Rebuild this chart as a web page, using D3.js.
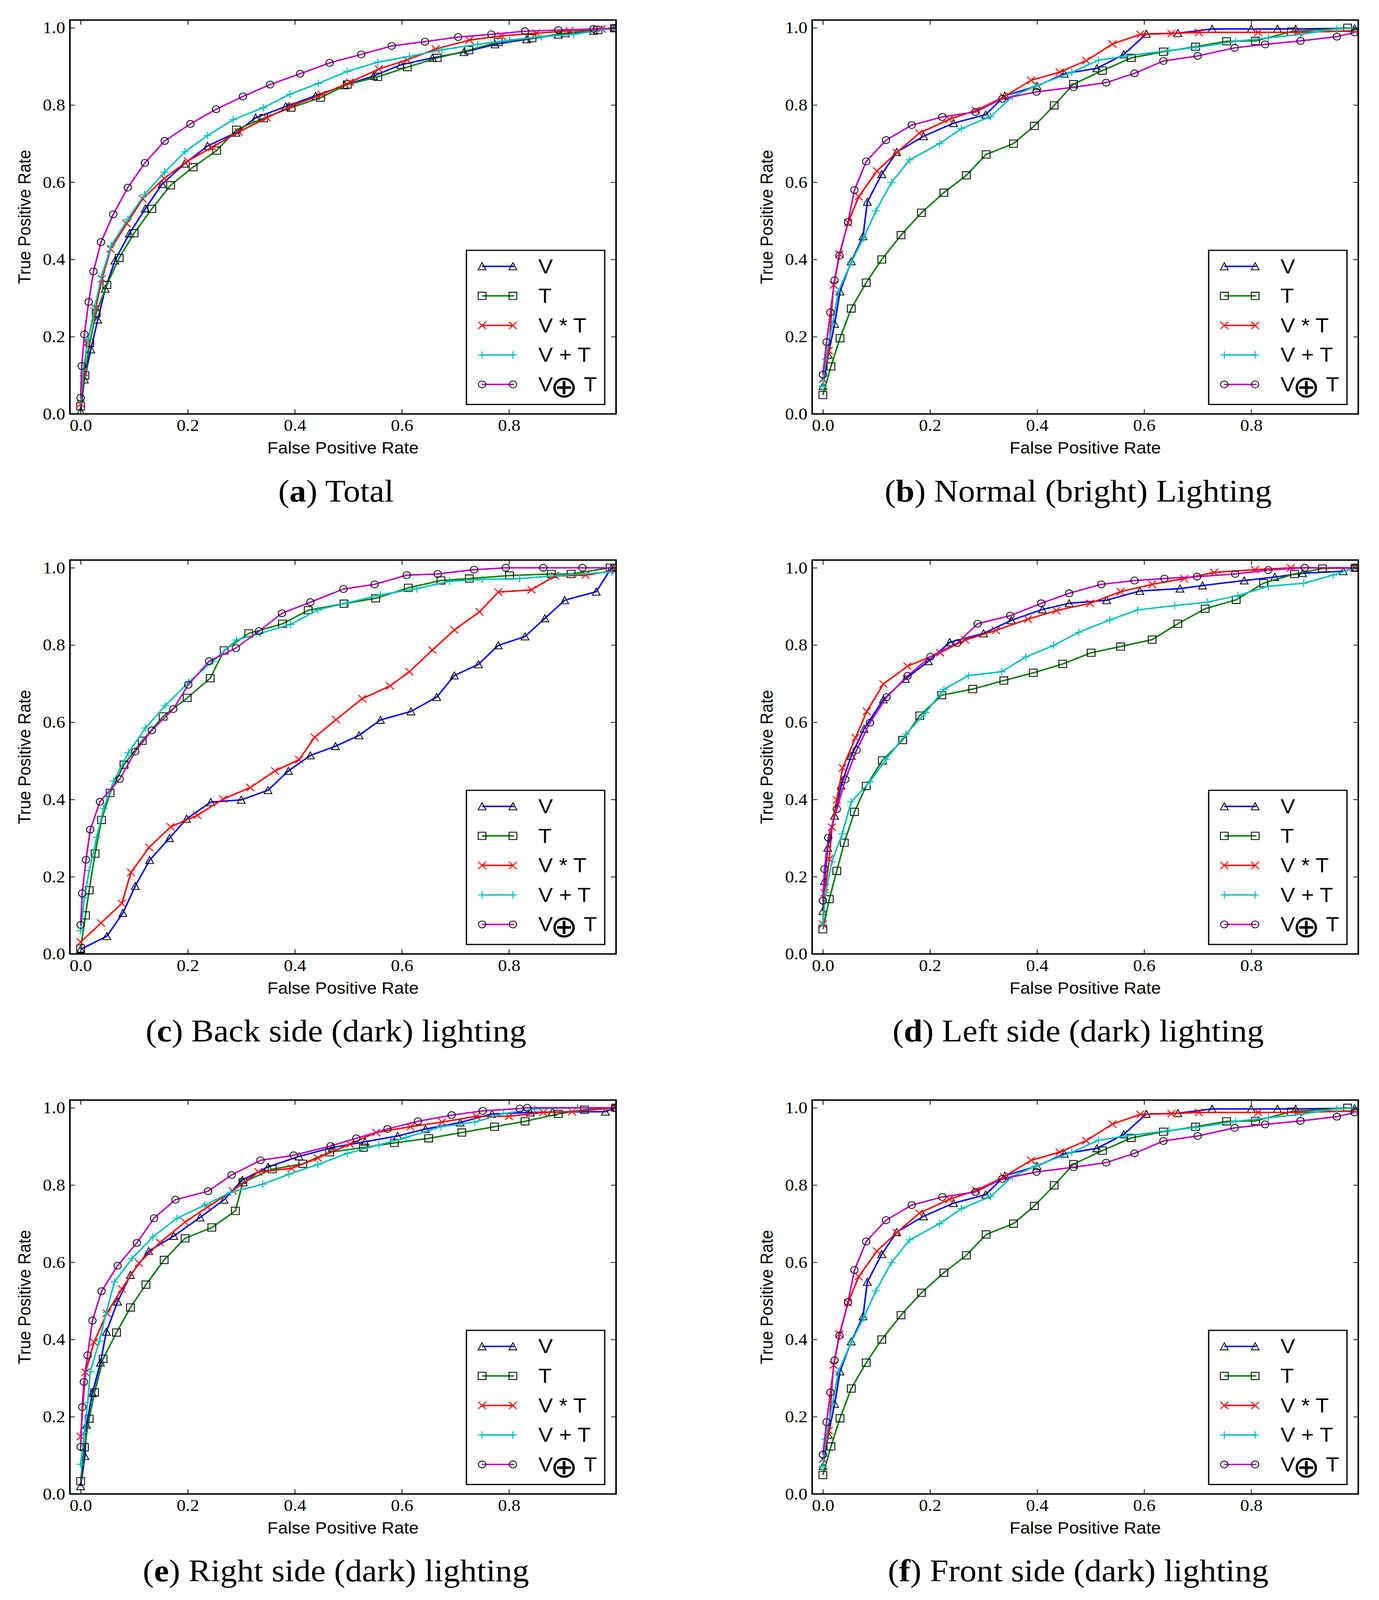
<!DOCTYPE html>
<html>
<head>
<meta charset="utf-8">
<script src="https://cdn.jsdelivr.net/npm/d3@7/dist/d3.min.js"></script>
<style>
html,body{margin:0;padding:0;overflow:hidden;background:#fff}
svg{display:block}
</style>
</head>
<body>
<svg id="figure"></svg>
<script>
// values, points are [false positive rate, true positive rate]
var seriesNames=["V","T","V * T","V + T","V⊕T"]
var xTicks=[0,0.2,0.4,0.6,0.8]
var yTicks=[0,0.2,0.4,0.6,0.8,1.0]
var captionLetters=["a","b","c","d","e","f"]
var captionTexts=["Total","Normal (bright) Lighting","Back side (dark) lighting","Left side (dark) lighting","Right side (dark) lighting","Front side (dark) lighting"]

// (a) Total
var aV=[[0,0.007],[0.007,0.089],[0.019,0.167],[0.032,0.244],[0.046,0.324],[0.064,0.397],[0.091,0.467],[0.121,0.532],[0.152,0.595],[0.194,0.648],[0.237,0.694],[0.29,0.728],[0.327,0.767],[0.383,0.796],[0.439,0.824],[0.493,0.851],[0.547,0.875],[0.598,0.904],[0.657,0.922],[0.716,0.937],[0.774,0.957],[0.833,0.970],[0.892,0.982],[0.958,0.992],[0.997,0.999]]
var aT=[[0,0.02],[0.008,0.1],[0.017,0.184],[0.029,0.261],[0.049,0.334],[0.072,0.404],[0.1,0.468],[0.133,0.531],[0.168,0.592],[0.21,0.639],[0.254,0.682],[0.291,0.736],[0.342,0.766],[0.393,0.793],[0.448,0.819],[0.498,0.853],[0.555,0.873],[0.61,0.898],[0.666,0.922],[0.725,0.942],[0.78,0.963],[0.843,0.973],[0.905,0.986],[0.966,0.994],[0.997,0.999]]
var aVmT=[[0,0.026],[0.006,0.107],[0.012,0.184],[0.028,0.274],[0.04,0.35],[0.056,0.427],[0.086,0.493],[0.116,0.557],[0.156,0.61],[0.2,0.655],[0.246,0.691],[0.295,0.73],[0.348,0.767],[0.395,0.798],[0.45,0.827],[0.503,0.859],[0.557,0.893],[0.61,0.917],[0.663,0.945],[0.726,0.968],[0.786,0.979],[0.851,0.986],[0.913,0.992],[0.973,0.997],[1.0,1.0]]
var aVpT=[[0,0.035],[0.005,0.116],[0.014,0.193],[0.026,0.274],[0.039,0.356],[0.057,0.436],[0.088,0.504],[0.119,0.568],[0.157,0.626],[0.195,0.679],[0.237,0.721],[0.285,0.762],[0.341,0.793],[0.391,0.828],[0.444,0.856],[0.498,0.887],[0.555,0.911],[0.614,0.926],[0.675,0.943],[0.741,0.957],[0.801,0.968],[0.86,0.977],[0.921,0.983],[0.997,0.999]]
var aVoT=[[0,0.042],[0.002,0.124],[0.007,0.206],[0.015,0.29],[0.024,0.369],[0.038,0.445],[0.061,0.517],[0.088,0.586],[0.12,0.65],[0.157,0.707],[0.205,0.751],[0.253,0.789],[0.303,0.822],[0.354,0.853],[0.41,0.881],[0.465,0.909],[0.524,0.931],[0.581,0.953],[0.643,0.964],[0.705,0.976],[0.767,0.983],[0.83,0.991],[0.892,0.994],[0.958,0.997],[0.997,0.999]]

// (b) Normal (bright) lighting
var bV=[[0,0.072],[0.01,0.153],[0.022,0.233],[0.032,0.317],[0.053,0.395],[0.075,0.46],[0.083,0.549],[0.11,0.621],[0.138,0.678],[0.188,0.719],[0.244,0.753],[0.304,0.775],[0.34,0.824],[0.4,0.849],[0.451,0.881],[0.512,0.895],[0.562,0.931],[0.604,0.984],[0.663,0.986],[0.727,0.997],[0.8,0.997],[0.849,0.997],[0.883,0.997],[0.993,0.999]]
var bT=[[0,0.049],[0.015,0.123],[0.032,0.196],[0.053,0.273],[0.081,0.34],[0.11,0.4],[0.146,0.463],[0.184,0.521],[0.226,0.573],[0.268,0.618],[0.305,0.672],[0.356,0.70],[0.395,0.746],[0.432,0.799],[0.468,0.854],[0.522,0.889],[0.576,0.922],[0.636,0.938],[0.696,0.951],[0.754,0.965],[0.808,0.966],[0.875,0.99],[0.98,1.0]]
var bVmT=[[0,0.09],[0.011,0.164],[0.02,0.334],[0.031,0.414],[0.047,0.495],[0.067,0.563],[0.101,0.629],[0.138,0.677],[0.18,0.727],[0.236,0.763],[0.286,0.786],[0.338,0.821],[0.389,0.864],[0.442,0.885],[0.492,0.915],[0.541,0.958],[0.593,0.983],[0.651,0.985],[0.702,0.988],[0.813,0.988],[0.888,0.988],[0.993,0.992]]
var bVpT=[[0,0.072],[0.005,0.142],[0.018,0.233],[0.029,0.317],[0.053,0.393],[0.076,0.456],[0.099,0.526],[0.128,0.599],[0.162,0.658],[0.218,0.70],[0.259,0.739],[0.313,0.77],[0.354,0.822],[0.397,0.849],[0.465,0.885],[0.515,0.916],[0.566,0.927],[0.646,0.941],[0.697,0.949],[0.771,0.965],[0.832,0.974],[0.892,0.983],[0.96,0.997],[0.993,0.999]]
var bVoT=[[0,0.102],[0.007,0.186],[0.014,0.263],[0.022,0.346],[0.031,0.41],[0.047,0.497],[0.059,0.58],[0.081,0.654],[0.118,0.709],[0.166,0.748],[0.223,0.769],[0.285,0.782],[0.335,0.816],[0.399,0.834],[0.468,0.846],[0.529,0.858],[0.582,0.882],[0.636,0.914],[0.70,0.927],[0.769,0.948],[0.826,0.957],[0.892,0.966],[0.96,0.977],[0.993,0.988]]

// (c) Back side (dark) lighting
var cV=[[0,0.012],[0.049,0.046],[0.079,0.106],[0.102,0.176],[0.129,0.243],[0.166,0.30],[0.198,0.35],[0.243,0.393],[0.30,0.399],[0.35,0.424],[0.388,0.474],[0.429,0.514],[0.476,0.538],[0.52,0.566],[0.56,0.606],[0.617,0.628],[0.665,0.665],[0.698,0.721],[0.743,0.75],[0.78,0.799],[0.83,0.822],[0.867,0.869],[0.904,0.916],[0.963,0.938],[0.991,0.999]]
var cT=[[0,0.014],[0.009,0.10],[0.016,0.165],[0.027,0.26],[0.039,0.347],[0.055,0.417],[0.081,0.49],[0.115,0.552],[0.154,0.615],[0.199,0.663],[0.242,0.714],[0.268,0.786],[0.314,0.83],[0.377,0.855],[0.425,0.89],[0.492,0.907],[0.551,0.921],[0.612,0.948],[0.673,0.967],[0.726,0.972],[0.801,0.98],[0.879,0.984],[0.916,0.984],[0.989,1.0]]
var cVmT=[[0,0.031],[0.038,0.08],[0.077,0.131],[0.094,0.211],[0.128,0.276],[0.168,0.329],[0.218,0.359],[0.266,0.401],[0.317,0.431],[0.363,0.474],[0.408,0.503],[0.437,0.561],[0.477,0.607],[0.526,0.661],[0.578,0.694],[0.614,0.731],[0.657,0.787],[0.698,0.839],[0.745,0.886],[0.78,0.937],[0.842,0.943],[0.886,0.979],[0.943,0.981],[0.999,0.993]]
var cVpT=[[0,0.06],[0.007,0.145],[0.016,0.216],[0.03,0.302],[0.043,0.377],[0.062,0.448],[0.089,0.521],[0.121,0.585],[0.158,0.643],[0.202,0.704],[0.247,0.758],[0.291,0.813],[0.335,0.83],[0.392,0.853],[0.443,0.891],[0.497,0.909],[0.56,0.93],[0.628,0.946],[0.689,0.965],[0.75,0.97],[0.82,0.972],[0.891,0.98],[0.992,0.989]]
var cVoT=[[0,0.075],[0.003,0.157],[0.01,0.244],[0.018,0.322],[0.036,0.394],[0.073,0.453],[0.102,0.524],[0.133,0.579],[0.173,0.634],[0.201,0.697],[0.24,0.758],[0.29,0.792],[0.333,0.836],[0.376,0.882],[0.429,0.911],[0.491,0.945],[0.549,0.957],[0.609,0.981],[0.667,0.984],[0.735,0.995],[0.794,1.0],[0.864,1.0],[0.937,1.0],[0.999,1.0]]

// (d) Left side (dark) lighting
var dV=[[0,0.111],[0.003,0.189],[0.009,0.275],[0.022,0.358],[0.034,0.436],[0.053,0.513],[0.077,0.583],[0.113,0.659],[0.154,0.712],[0.197,0.758],[0.237,0.807],[0.30,0.83],[0.352,0.864],[0.41,0.892],[0.46,0.908],[0.53,0.916],[0.592,0.94],[0.667,0.946],[0.709,0.954],[0.787,0.967],[0.844,0.976],[0.896,0.986],[0.972,0.991],[0.994,1.0]]
var dT=[[0,0.064],[0.012,0.142],[0.026,0.215],[0.04,0.288],[0.059,0.368],[0.081,0.435],[0.111,0.501],[0.149,0.554],[0.181,0.617],[0.222,0.67],[0.28,0.686],[0.338,0.708],[0.393,0.728],[0.448,0.751],[0.501,0.78],[0.556,0.796],[0.615,0.814],[0.663,0.855],[0.714,0.894],[0.772,0.917],[0.823,0.96],[0.881,0.984],[0.933,0.998],[0.994,1.0]]
var dVmT=[[0,0.077],[0.003,0.158],[0.012,0.246],[0.017,0.328],[0.026,0.399],[0.037,0.482],[0.061,0.56],[0.082,0.628],[0.113,0.699],[0.158,0.745],[0.219,0.78],[0.266,0.813],[0.323,0.838],[0.383,0.867],[0.436,0.889],[0.499,0.908],[0.556,0.938],[0.615,0.957],[0.675,0.972],[0.731,0.988],[0.807,0.995],[0.874,1.0],[0.994,1.0]]
var dVpT=[[0,0.077],[0.005,0.159],[0.017,0.239],[0.036,0.311],[0.053,0.394],[0.088,0.446],[0.118,0.504],[0.155,0.569],[0.192,0.625],[0.226,0.685],[0.272,0.721],[0.334,0.731],[0.379,0.769],[0.431,0.799],[0.478,0.833],[0.536,0.865],[0.588,0.891],[0.657,0.902],[0.718,0.911],[0.775,0.928],[0.832,0.952],[0.898,0.96],[0.953,0.981],[0.994,1.0]]
var dVoT=[[0,0.138],[0.003,0.22],[0.01,0.301],[0.026,0.375],[0.042,0.452],[0.063,0.528],[0.088,0.599],[0.119,0.665],[0.158,0.72],[0.201,0.77],[0.251,0.805],[0.289,0.855],[0.35,0.876],[0.408,0.908],[0.46,0.934],[0.52,0.957],[0.582,0.967],[0.638,0.972],[0.699,0.977],[0.77,0.984],[0.832,0.994],[0.90,1.0],[0.994,1.0]]

// (e) Right side (dark) lighting
var eV=[[0,0.02],[0.008,0.098],[0.011,0.179],[0.022,0.261],[0.037,0.34],[0.048,0.42],[0.069,0.498],[0.093,0.567],[0.127,0.629],[0.174,0.668],[0.223,0.716],[0.268,0.762],[0.302,0.813],[0.35,0.847],[0.408,0.874],[0.47,0.897],[0.531,0.912],[0.592,0.927],[0.644,0.945],[0.709,0.962],[0.768,0.984],[0.84,0.988],[0.881,0.989],[0.98,0.99],[0.999,1.0]]
var eT=[[0,0.033],[0.007,0.121],[0.016,0.195],[0.026,0.263],[0.042,0.35],[0.067,0.418],[0.093,0.483],[0.122,0.542],[0.156,0.606],[0.195,0.662],[0.245,0.69],[0.289,0.733],[0.303,0.807],[0.358,0.841],[0.415,0.855],[0.465,0.885],[0.528,0.897],[0.586,0.909],[0.65,0.921],[0.712,0.936],[0.773,0.951],[0.83,0.965],[0.892,0.984],[0.941,0.995],[0.999,1.0]]
var eVmT=[[0,0.149],[0.009,0.315],[0.025,0.393],[0.049,0.468],[0.077,0.531],[0.109,0.598],[0.148,0.651],[0.195,0.704],[0.237,0.743],[0.284,0.785],[0.332,0.834],[0.394,0.843],[0.443,0.87],[0.503,0.906],[0.552,0.936],[0.616,0.951],[0.675,0.963],[0.739,0.978],[0.80,0.978],[0.864,0.988],[0.918,0.99],[0.999,1.0]]
var eVpT=[[0,0.077],[0.007,0.159],[0.013,0.237],[0.018,0.317],[0.035,0.396],[0.048,0.47],[0.063,0.549],[0.096,0.61],[0.135,0.666],[0.18,0.714],[0.232,0.748],[0.28,0.781],[0.34,0.802],[0.389,0.828],[0.443,0.853],[0.498,0.882],[0.557,0.904],[0.608,0.923],[0.673,0.951],[0.736,0.963],[0.79,0.985],[0.848,0.997],[0.928,1.0],[0.999,1.0]]
var eVoT=[[0,0.122],[0.003,0.225],[0.006,0.29],[0.013,0.359],[0.022,0.449],[0.039,0.525],[0.069,0.591],[0.105,0.65],[0.137,0.714],[0.177,0.762],[0.238,0.784],[0.282,0.826],[0.336,0.864],[0.398,0.877],[0.467,0.901],[0.515,0.921],[0.573,0.945],[0.63,0.965],[0.693,0.981],[0.751,0.992],[0.82,0.998],[0.834,1.0],[0.999,1.0]]

// (f) Front side (dark) lighting (same curves as (b) in the picture)
var fV=[[0,0.072],[0.01,0.153],[0.022,0.233],[0.032,0.317],[0.053,0.395],[0.075,0.46],[0.083,0.549],[0.11,0.621],[0.138,0.678],[0.188,0.719],[0.244,0.753],[0.304,0.775],[0.34,0.824],[0.4,0.849],[0.451,0.881],[0.512,0.895],[0.562,0.931],[0.604,0.984],[0.663,0.986],[0.727,0.997],[0.8,0.997],[0.849,0.997],[0.883,0.997],[0.993,0.999]]
var fT=[[0,0.049],[0.015,0.123],[0.032,0.196],[0.053,0.273],[0.081,0.34],[0.11,0.4],[0.146,0.463],[0.184,0.521],[0.226,0.573],[0.268,0.618],[0.305,0.672],[0.356,0.70],[0.395,0.746],[0.432,0.799],[0.468,0.854],[0.522,0.889],[0.576,0.922],[0.636,0.938],[0.696,0.951],[0.754,0.965],[0.808,0.966],[0.875,0.99],[0.98,1.0]]
var fVmT=[[0,0.09],[0.011,0.164],[0.02,0.334],[0.031,0.414],[0.047,0.495],[0.067,0.563],[0.101,0.629],[0.138,0.677],[0.18,0.727],[0.236,0.763],[0.286,0.786],[0.338,0.821],[0.389,0.864],[0.442,0.885],[0.492,0.915],[0.541,0.958],[0.593,0.983],[0.651,0.985],[0.702,0.988],[0.813,0.988],[0.888,0.988],[0.993,0.992]]
var fVpT=[[0,0.072],[0.005,0.142],[0.018,0.233],[0.029,0.317],[0.053,0.393],[0.076,0.456],[0.099,0.526],[0.128,0.599],[0.162,0.658],[0.218,0.70],[0.259,0.739],[0.313,0.77],[0.354,0.822],[0.397,0.849],[0.465,0.885],[0.515,0.916],[0.566,0.927],[0.646,0.941],[0.697,0.949],[0.771,0.965],[0.832,0.974],[0.892,0.983],[0.96,0.997],[0.993,0.999]]
var fVoT=[[0,0.102],[0.007,0.186],[0.014,0.263],[0.022,0.346],[0.031,0.41],[0.047,0.497],[0.059,0.58],[0.081,0.654],[0.118,0.709],[0.166,0.748],[0.223,0.769],[0.285,0.782],[0.335,0.816],[0.399,0.834],[0.468,0.846],[0.529,0.858],[0.582,0.882],[0.636,0.914],[0.70,0.927],[0.769,0.948],[0.826,0.957],[0.892,0.966],[0.96,0.977],[0.993,0.988]]

var panelSeries=[
    [aV,aT,aVmT,aVpT,aVoT],
    [bV,bT,bVmT,bVpT,bVoT],
    [cV,cT,cVmT,cVpT,cVoT],
    [dV,dT,dVmT,dVpT,dVoT],
    [eV,eT,eVmT,eVpT,eVoT],
    [fV,fT,fVmT,fVpT,fVoT]
]

// styles
var lineColors=["#0000ff","#008000","#ff0000","#00bfbf","#bf00bf"]
var markerTypes=["triangle","square","x","plus","circle"]

// layout (drawn in a 3530x4391 box, stretched onto whatever the window shows)
var screen={width:3530,height:4391}
var frame={width:1398,height:1081}
var colLeft=[179,2079]
var rowTop=[55,1537,3019]
var tickFont="'Liberation Serif','Times New Roman',serif"
var sansFont="'Liberation Sans',Arial,Helvetica,sans-serif"

var svg=d3.select("#figure")
    .attr("width",window.innerWidth||screen.width)
    .attr("height",window.innerHeight||screen.height)
    .attr("viewBox","0 0 "+screen.width+" "+screen.height)
    .attr("preserveAspectRatio","none")
svg.append("rect")
    .attr("width",screen.width)
    .attr("height",screen.height)
    .attr("fill","#fff")

//marker shapes, centred on 0,0
var markerPath=function(type){
    var p=d3.path()
    if(type=="triangle"){
        p.moveTo(0,-10);p.lineTo(10,9.5);p.lineTo(-10,9.5);p.closePath()
    }else if(type=="square"){
        p.rect(-10,-10,20,20)
    }else if(type=="x"){
        p.moveTo(-10,-10);p.lineTo(10,10);p.moveTo(-10,10);p.lineTo(10,-10)
    }else if(type=="plus"){
        p.moveTo(-10.5,0);p.lineTo(10.5,0);p.moveTo(0,-10.5);p.lineTo(0,10.5)
    }else{
        p.arc(0,0,9.5,0,2*Math.PI)
    }
    return p.toString()
}
var markerStroke=function(i){
    return (markerTypes[i]=="x"||markerTypes[i]=="plus")?lineColors[i]:"#000"
}
var markerWidth=function(i){
    return (markerTypes[i]=="x"||markerTypes[i]=="plus")?2.6:2.2
}

var drawAxes=function(target,xScale,yScale){
    var fmt=d3.format(".1f")
    var bottom=target.append("g")
        .attr("transform","translate(0,"+frame.height+")")
        .call(d3.axisBottom(xScale).tickValues(xTicks).tickFormat(fmt).tickSize(-13).tickPadding(14))
    var topAx=target.append("g")
        .call(d3.axisTop(xScale).tickValues(xTicks).tickFormat("").tickSize(-13))
    var left=target.append("g")
        .call(d3.axisLeft(yScale).tickValues(yTicks).tickFormat(fmt).tickSize(-13).tickPadding(12))
    var right=target.append("g")
        .attr("transform","translate("+frame.width+",0)")
        .call(d3.axisRight(yScale).tickValues(yTicks).tickFormat("").tickSize(-13))
    ;[bottom,topAx,left,right].forEach(function(ax){
        ax.select(".domain").remove()
        ax.attr("font-family",tickFont).attr("font-size",46)
        ax.selectAll(".tick line").attr("stroke","#000").attr("stroke-width",2)
        ax.selectAll(".tick text").attr("fill","#000").attr("font-family",tickFont)
    })
}

var drawCurves=function(target,series,xScale,yScale,clipId){
    var lineGenerator=d3.line()
        .x(function(d){return xScale(d[0])})
        .y(function(d){return yScale(d[1])})
    var plot=target.append("g").attr("clip-path","url(#"+clipId+")")
    series.forEach(function(pts,i){
        var g=plot.append("g").classed("series",true)
        g.append("path")
            .datum(pts)
            .attr("d",lineGenerator)
            .attr("fill","none")
            .attr("stroke",lineColors[i])
            .attr("stroke-width",4)
            .attr("stroke-linejoin","round")
        g.selectAll("path.marker")
            .data(pts)
            .enter()
            .append("path")
            .classed("marker",true)
            .attr("d",markerPath(markerTypes[i]))
            .attr("transform",function(d){return "translate("+xScale(d[0])+","+yScale(d[1])+")"})
            .attr("fill","none")
            .attr("stroke",markerStroke(i))
            .attr("stroke-width",markerWidth(i))
    })
}

var drawLegend=function(target){
    var box={width:354,height:423}
    var lg=target.append("g")
        .attr("transform","translate("+(frame.width-29-box.width)+","+(frame.height-26-box.height)+")")
    lg.append("rect")
        .attr("width",box.width)
        .attr("height",box.height)
        .attr("fill","#fff")
        .attr("stroke","#000")
        .attr("stroke-width",3.3)
    seriesNames.forEach(function(name,i){
        var row=lg.append("g").attr("transform","translate(0,"+(44+i*81)+")")
        row.append("line")
            .attr("x1",40).attr("x2",122)
            .attr("stroke",lineColors[i]).attr("stroke-width",4)
        ;[40,119].forEach(function(mx){
            row.append("path")
                .attr("d",markerPath(markerTypes[i]))
                .attr("transform","translate("+mx+",0)")
                .attr("fill","none")
                .attr("stroke",markerStroke(i))
                .attr("stroke-width",markerWidth(i))
        })
        var parts=name.split("⊕")
        if(parts.length==1){
            row.append("text")
                .attr("x",184).attr("y",19)
                .attr("font-family",sansFont).attr("font-size",56)
                .attr("xml:space","preserve")
                .text(name)
        }else{
            row.append("text")
                .attr("x",184).attr("y",19)
                .attr("font-family",sansFont).attr("font-size",56)
                .text(parts[0])
            row.append("text")
                .attr("x",250).attr("y",6)
                .attr("text-anchor","middle")
                .attr("dominant-baseline","central")
                .attr("font-family","'DejaVu Sans',sans-serif").attr("font-size",84)
                .text("⊕")
            row.append("text")
                .attr("x",300).attr("y",19)
                .attr("font-family",sansFont).attr("font-size",56)
                .text(parts[1])
        }
    })
}

var drawLabels=function(target,k){
    target.append("text")
        .text("False Positive Rate")
        .attr("text-anchor","middle")
        .attr("font-family",sansFont)
        .attr("font-size",45)
        .attr("x",frame.width/2)
        .attr("y",frame.height+109)
    target.append("g")
        .attr("transform","translate(-101,"+(frame.height/2)+")")
        .append("text")
        .text("True Positive Rate")
        .attr("text-anchor","middle")
        .attr("font-family",sansFont)
        .attr("font-size",45)
        .attr("transform","rotate(-90)")
    var cap=target.append("text")
        .attr("text-anchor","middle")
        .attr("font-family",tickFont)
        .attr("font-size",86)
        .attr("x",frame.width/2-18)
        .attr("y",frame.height+240)
    cap.append("tspan").text("(")
    cap.append("tspan").attr("font-weight","bold").text(captionLetters[k])
    cap.append("tspan").text(") "+captionTexts[k])
}

var drawPanel=function(k){
    var left=colLeft[k%2]
    var top=rowTop[Math.floor(k/2)]
    var xScale=d3.scaleLinear().domain([-0.02,1.0]).range([0,frame.width])
    var yScale=d3.scaleLinear().domain([0,1.02]).range([frame.height,0])
    var target=svg.append("g")
        .classed("panel",true)
        .attr("transform","translate("+left+","+top+")")
    var clipId="clip"+k
    target.append("clipPath").attr("id",clipId)
        .append("rect").attr("width",frame.width).attr("height",frame.height)

    drawCurves(target,panelSeries[k],xScale,yScale,clipId)
    drawAxes(target,xScale,yScale)
    target.append("rect")
        .attr("width",frame.width)
        .attr("height",frame.height)
        .attr("fill","none")
        .attr("stroke","#000")
        .attr("stroke-width",4)
    drawLegend(target)
    drawLabels(target,k)
}

for(var k=0;k<6;k++){drawPanel(k)}
</script>
</body>
</html>
